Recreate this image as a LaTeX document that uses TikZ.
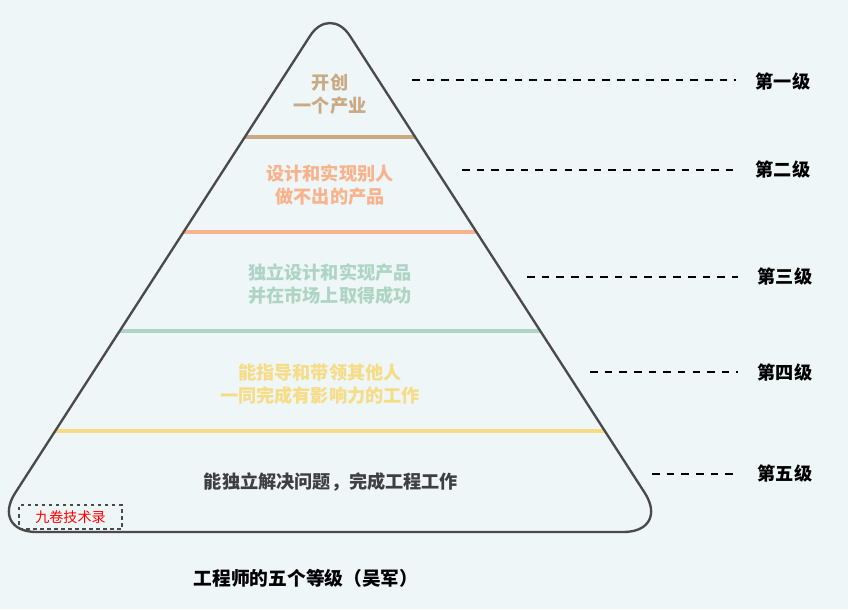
\documentclass[tikz,border=0pt]{standalone}
\usepackage{fontspec}
\setmainfont{Noto Sans CJK SC}
\usetikzlibrary{calc}
\definecolor{bgc}{HTML}{EEF6F7}
\definecolor{edgec}{HTML}{4A4A4A}
\definecolor{tanc}{HTML}{C9AA85}
\definecolor{salmonc}{HTML}{F8B38C}
\definecolor{greenc}{HTML}{AED5C3}
\definecolor{yellowc}{HTML}{F6DC85}
\definecolor{textc}{HTML}{3F3F3F}

\begin{document}
\begin{tikzpicture}[x=0.03cm,y=-0.03cm,
  tier/.style={font=\bfseries\fontsize{15.5pt}{20pt}\selectfont, align=center, inner sep=0pt},
  band/.style={line width=4pt},
  levellabel/.style={font=\bfseries\fontsize{15.5pt}{18pt}\selectfont, text=black, inner sep=0pt},
  levelline/.style={line width=1.6pt, dash pattern=on 6.5pt off 6pt, shorten >=17pt}]
\fill[bgc] (0,0) rectangle (848,609);
\useasboundingbox (0,0) rectangle (848,609);
% apex, bottom left, bottom right
\coordinate (A) at (330,5);
\coordinate (BL) at (-10,532);
\coordinate (BR) at (670,532);
% bands, top to bottom
\draw[band,tanc] ($(A)!0.2505!(BL)$) -- ($(A)!0.2505!(BR)$);
\draw[band,salmonc] ($(A)!0.4307!(BL)$) -- ($(A)!0.4307!(BR)$);
\draw[band,greenc] ($(A)!0.6186!(BL)$) -- ($(A)!0.6186!(BR)$);
\draw[band,yellowc] ($(A)!0.8083!(BL)$) -- ($(A)!0.8083!(BR)$);
\draw[edgec,line width=2pt] (330,532) [rounded corners=1.4cm] -- (BL) [rounded corners=1.1cm] -- (A) [rounded corners=1.4cm] -- (BR) -- cycle;
% tier texts
\node[tier,text=tanc] (t1) at (330,94) {开创\\一个产业};
\node[tier,text=salmonc] (t2) at (330,185) {设计和实现别人\\做不出的产品};
\node[tier,text=greenc] (t3) at (330,284) {独立设计和实现产品\\并在市场上取得成功};
\node[tier,text=yellowc] (t4) at (320,384) {能指导和带领其他人\\一同完成有影响力的工作};
\node[tier,text=textc] (t5) at (331,482) {能独立解决问题，完成工程工作};
% levels
\node[levellabel] (l1) at (783,82) {第一级};
\node[levellabel] (l2) at (783,170) {第二级};
\node[levellabel] (l3) at (785,277) {第三级};
\node[levellabel] (l4) at (785,373) {第四级};
\node[levellabel] (l5) at (785,474) {第五级};
\coordinate (d1) at (412,80);
\coordinate (d2) at (462,170);
\coordinate (d3) at (527,277);
\coordinate (d4) at (590,372);
\coordinate (d5) at (652,474);
\draw[levelline] (d1) -- (d1 -| l1.west);
\draw[levelline] (d2) -- (d2 -| l2.west);
\draw[levelline] (d3) -- (d3 -| l3.west);
\draw[levelline] (d4) -- (d4 -| l4.west);
\draw[levelline] (d5) -- (d5 -| l5.west);
%\node[draw] at (70,517){};
\node[draw=edgec,dashed,line width=0.9pt,minimum width=3.09cm,minimum height=0.72cm,text=red,font=\fontsize{12pt}{12pt}\selectfont] (wm) at (70.5,517) {九卷技术录};
\node[font=\bfseries\fontsize{16pt}{18pt}\selectfont] (title) at (306,578) {工程师的五个等级（吴军）};
\end{tikzpicture}
\end{document}
